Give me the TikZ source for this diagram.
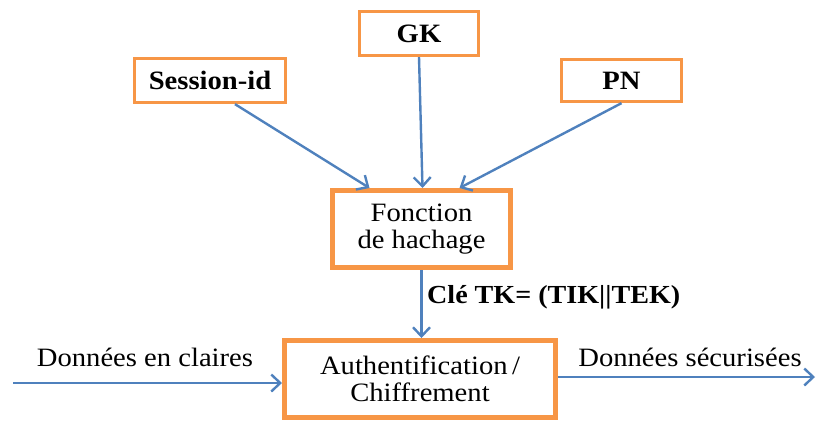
\documentclass[tikz,border=0pt]{standalone}
\usepackage{fontspec}
\setmainfont[FakeStretch=1.08]{Liberation Serif}
\usetikzlibrary{arrows.meta}
\definecolor{boxorange}{HTML}{F79646}
\definecolor{arrowblue}{HTML}{4F81BD}
\begin{document}
\begin{tikzpicture}[x=1pt,y=-1pt,
  txt/.style={font=\fontsize{26.5}{27}\selectfont},
  smallbox/.style={draw=boxorange,line width=2.8pt,fill=white,inner sep=0pt,font=\fontsize{26.5}{27}\selectfont\bfseries},
  bigbox/.style={draw=boxorange,line width=5pt,fill=white,inner sep=0pt,align=center,txt},
  conn/.style={draw=arrowblue,line width=2.4pt,-{Straight Barb[length=9pt,width=17pt]}},
  lbl/.style={txt,inner sep=0pt}]
\useasboundingbox (0,0) rectangle (818,421);
\node[smallbox,minimum width=151.5pt,minimum height=44.5pt] (sess) at (210,80.5) {Session-id};
\node[smallbox,minimum width=119.5pt,minimum height=44.5pt] (gk) at (419,33.5) {GK};
\node[smallbox,minimum width=120.5pt,minimum height=42.5pt] (pn) at (621.5,80.5) {PN};
\node[bigbox,minimum width=178pt,minimum height=77pt] (hash) at (421.5,229) {Fonction\\de hachage};
\node[bigbox,minimum width=271pt,minimum height=77pt] (auth) at (420,379) {Authentification\,/\\Chiffrement};
\coordinate (inL) at (13,383);
\coordinate (outR) at (815,377);
\draw[conn] ([xshift=25pt]sess.south) -- ([xshift=-52pt]hash.north);
\draw[conn] (gk.south) -- ([xshift=1pt]hash.north);
\draw[conn] (pn.south) -- ([xshift=38pt]hash.north);
\draw[conn] (hash.south) -- (hash.south |- auth.north);
\draw[conn] (inL) -- (inL -| auth.west);
\draw[conn] (outR -| auth.east) -- (outR);
\node[lbl,anchor=west,font=\fontsize{26}{27}\selectfont\bfseries] (tk) at (427,297) {Clé TK= (TIK||TEK)};
\node[lbl] (clair) at (145,357) {Données en claires};
\node[lbl] (secu) at (690,357) {Données sécurisées};
\end{tikzpicture}
\end{document}
